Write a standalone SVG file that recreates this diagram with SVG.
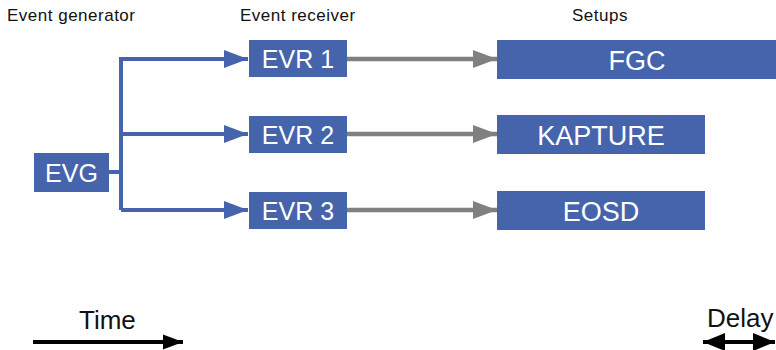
<svg xmlns="http://www.w3.org/2000/svg" width="776" height="350" viewBox="0 0 776 350">
  <style>
    .box { fill: #4564ac; }
    .lbl { font-family: "Liberation Sans", Arial, sans-serif; fill: #ffffff; text-anchor: middle; }
    .hdr { font-family: "Liberation Sans", Arial, sans-serif; fill: #111111; font-size: 17px; letter-spacing: 0.5px; }
    .big { font-family: "Liberation Sans", Arial, sans-serif; fill: #111111; font-size: 26px; }
    .blue { stroke: #4564ac; stroke-width: 4; fill: none; }
    .gray { stroke: #808080; stroke-width: 4.5; fill: none; }
    .blk { stroke: #000000; stroke-width: 4; fill: none; }
  </style>
  <defs>
    <marker id="ab" markerUnits="userSpaceOnUse" markerWidth="24" markerHeight="20" refX="24" refY="10" orient="auto">
      <path d="M0,1 L24,10 L0,19 Z" fill="#4564ac"/>
    </marker>
    <marker id="ag" markerUnits="userSpaceOnUse" markerWidth="24" markerHeight="20" refX="24" refY="10" orient="auto">
      <path d="M0,1 L24,10 L0,19 Z" fill="#808080"/>
    </marker>
    <marker id="ak" markerUnits="userSpaceOnUse" markerWidth="20" markerHeight="16" refX="20" refY="8" orient="auto-start-reverse">
      <path d="M0,0.5 L20,8 L0,15.5 Z" fill="#000000"/>
    </marker>
    <marker id="ad" markerUnits="userSpaceOnUse" markerWidth="22" markerHeight="20" refX="22" refY="10" orient="auto-start-reverse">
      <path d="M0,1 L22,10 L0,19 Z" fill="#000000"/>
    </marker>
  </defs>

  <!-- column headers -->
  <text class="hdr" x="7" y="21">Event generator</text>
  <text class="hdr" x="240" y="21">Event receiver</text>
  <text class="hdr" x="572" y="21">Setups</text>

  <!-- connectors -->
  <g id="connectors">
    <path class="blue" d="M109,172 H121"/>
    <path class="blue" d="M121,210 V59 H248" marker-end="url(#ab)"/>
    <path class="blue" d="M121,134 H248" marker-end="url(#ab)"/>
    <path class="blue" d="M121,210 H248" marker-end="url(#ab)"/>
    <path class="gray" d="M347,59 H497" marker-end="url(#ag)"/>
    <path class="gray" d="M347,134 H497" marker-end="url(#ag)"/>
    <path class="gray" d="M347,210 H497" marker-end="url(#ag)"/>
  </g>

  <g id="evg">
    <rect class="box" x="34" y="153" width="75" height="39"/>
    <text class="lbl" x="71.5" y="181.5" font-size="25">EVG</text>
  </g>
  <g id="evr1">
    <rect class="box" x="249" y="40" width="98" height="37"/>
    <text class="lbl" x="298" y="67.5" font-size="25">EVR 1</text>
  </g>
  <g id="evr2">
    <rect class="box" x="249" y="116" width="98" height="37"/>
    <text class="lbl" x="298" y="143.5" font-size="25">EVR 2</text>
  </g>
  <g id="evr3">
    <rect class="box" x="249" y="192" width="98" height="37"/>
    <text class="lbl" x="298" y="219.5" font-size="25">EVR 3</text>
  </g>
  <g id="fgc">
    <rect class="box" x="497" y="40" width="279" height="39"/>
    <text class="lbl" x="637" y="69.5" font-size="27">FGC</text>
  </g>
  <g id="kapture">
    <rect class="box" x="497" y="115" width="208" height="39"/>
    <text class="lbl" x="601" y="144.5" font-size="27">KAPTURE</text>
  </g>
  <g id="eosd">
    <rect class="box" x="497" y="191" width="208" height="39"/>
    <text class="lbl" x="601" y="220.5" font-size="27">EOSD</text>
  </g>

  <!-- legend -->
  <g id="time">
    <text class="big" x="79" y="329">Time</text>
    <path class="blk" d="M33,342 H183" marker-end="url(#ak)"/>
  </g>
  <g id="delay">
    <text class="big" x="707" y="327">Delay</text>
    <path class="blk" d="M703,342 H775" stroke-width="5" marker-start="url(#ad)" marker-end="url(#ad)"/>
  </g>
</svg>
